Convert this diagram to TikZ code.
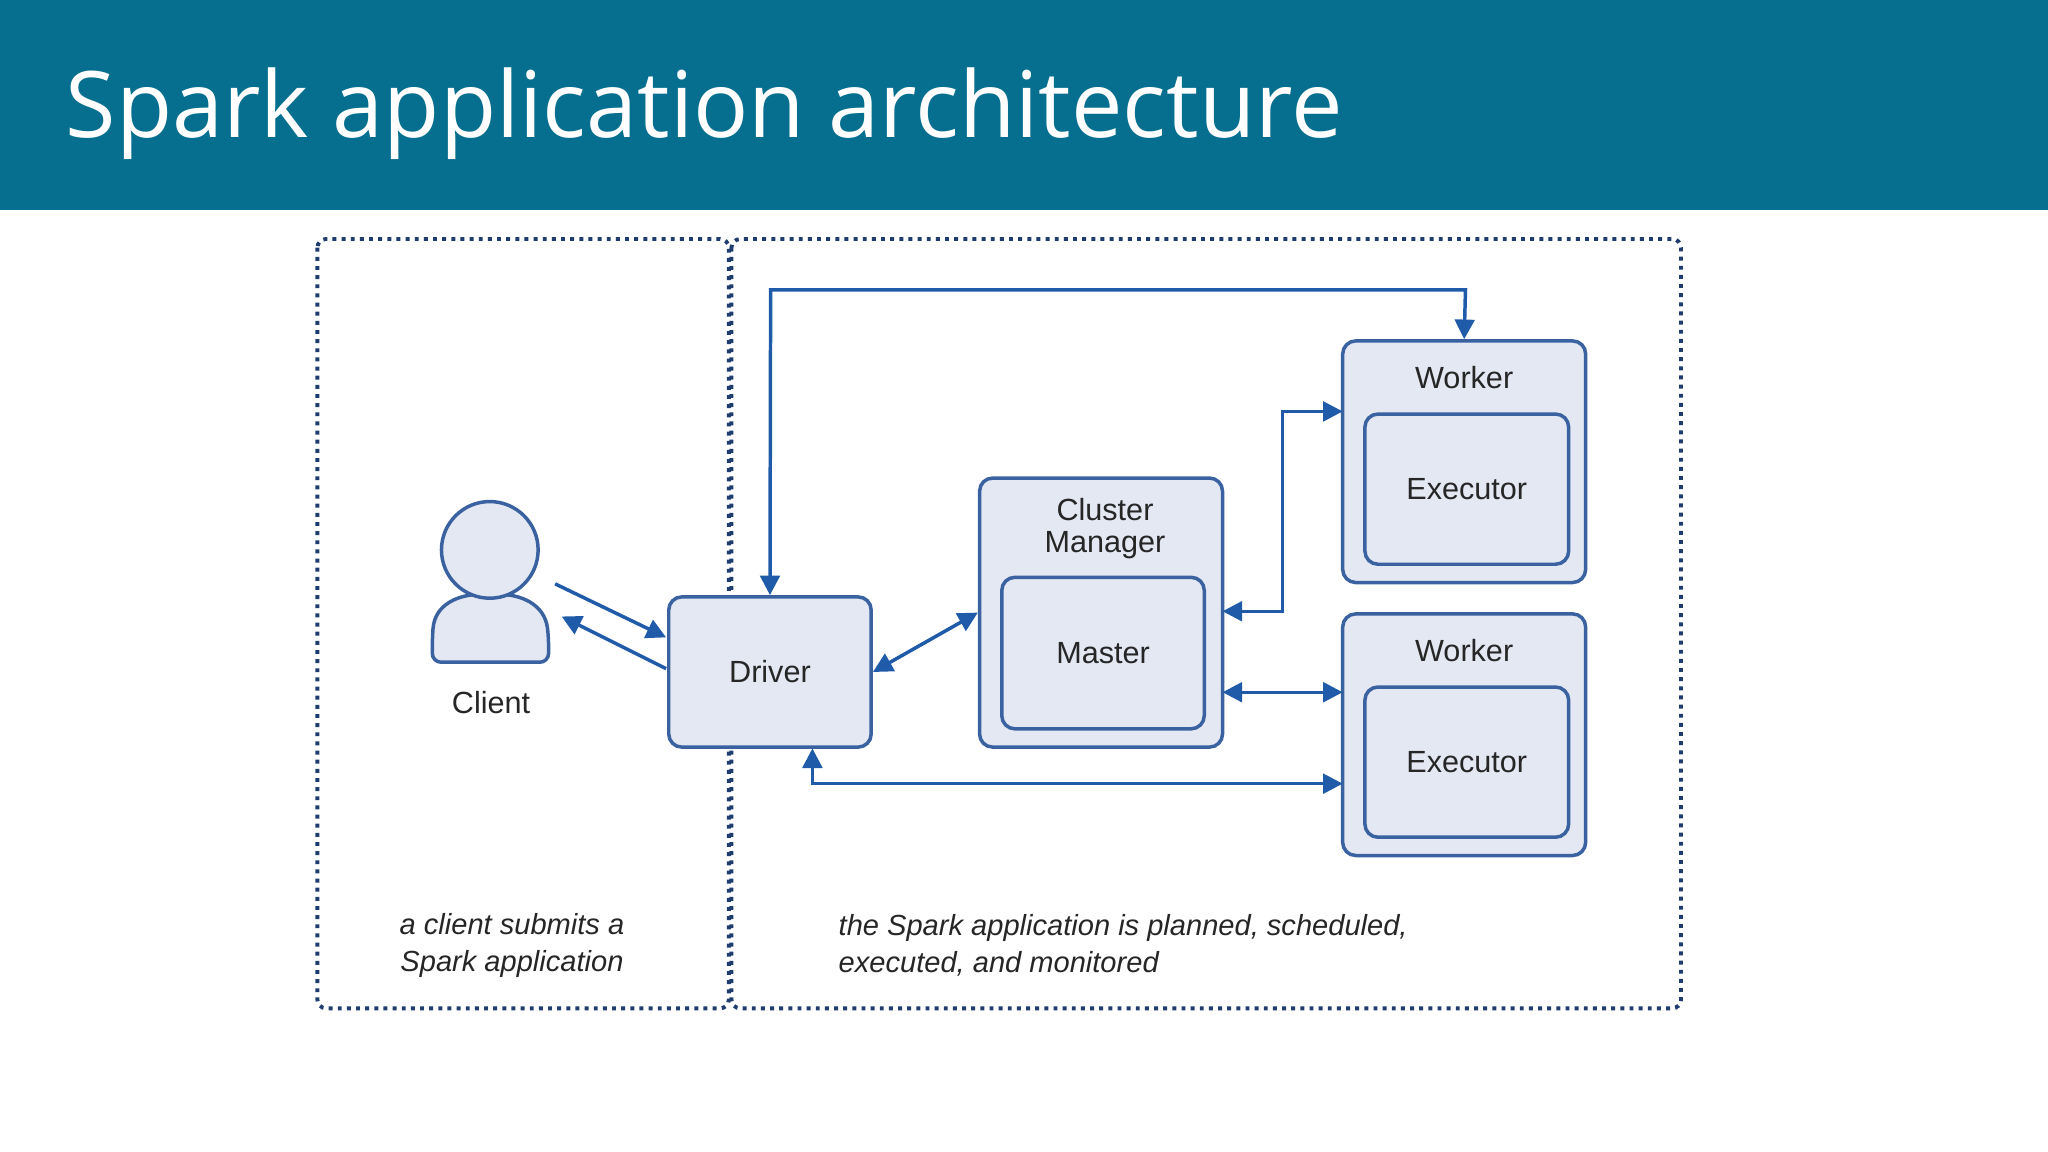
\documentclass[tikz,border=0pt]{standalone}
\usepackage{fontspec}
\setmainfont{Liberation Sans}
\newfontfamily\titlefont{Open Sans}
\usetikzlibrary{arrows.meta}
\definecolor{bar}{HTML}{066F8F}
\definecolor{edge}{HTML}{3A62A0}
\definecolor{boxfill}{HTML}{E3E8F2}
\definecolor{dotc}{HTML}{1E3C6E}
\definecolor{arr}{HTML}{1F5BA8}
\begin{document}
\begin{tikzpicture}[x=0.3mm,y=-0.3mm,
  box/.style={draw=edge,fill=boxfill,line width=0.8mm,rounded corners=3mm,inner sep=0},
  lbl/.style={font=\fontsize{20pt}{24pt}\selectfont,text=black!85,align=center},
  captext/.style={font=\fontsize{19pt}{24pt}\selectfont\itshape,text=black!85},
  dotbox/.style={draw=dotc,line width=0.9mm,dash pattern=on 0.9mm off 1.2mm,rounded corners=2mm},
  conn/.style={draw=arr,line width=0.8mm,-{Triangle[length=4.5mm,width=4.5mm]}},
  dconn/.style={draw=arr,line width=0.8mm,{Triangle[length=4.5mm,width=4.5mm]}-{Triangle[length=4.5mm,width=4.5mm]}}]
\useasboundingbox (0,0) rectangle (1568,882);
\fill[white] (0,0) rectangle (1568,882);
\fill[bar] (0,0) rectangle (1568,161);
\node[anchor=base west,text=white,font=\titlefont\fontsize{60pt}{70pt}\selectfont,inner sep=0] (title) at (50,105) {Spark application architecture};
% dotted regions
\draw[dotbox] (243,183) rectangle (558,772);
\draw[dotbox] (560,183) rectangle (1287,772);
% client icon
\draw[edge,fill=boxfill,line width=0.8mm,rounded corners=2mm] (331,507) -- (331,488) .. controls (333,462) and (352,455) .. (375,455) .. controls (398,455) and (417,462) .. (420,488) -- (420,507) -- cycle;
\draw[edge,fill=boxfill,line width=0.8mm] (375,421) circle[radius=37];
\node[lbl] (client) at (376,538) {Client};
% boxes
\node[box,minimum width=155*0.3mm,minimum height=115*0.3mm] (driver) at (589.5,514.5) {};
\node[lbl] at (driver) {Driver};
\node[box,minimum width=186*0.3mm,minimum height=206*0.3mm] (cm) at (843,469) {};
\node[lbl,font=\fontsize{20pt}{21pt}\selectfont] at (846,405) {Cluster\\Manager};
\node[box,minimum width=155*0.3mm,minimum height=116*0.3mm] (master) at (844.5,500) {};
\node[lbl] at (master) {Master};
\node[box,minimum width=186*0.3mm,minimum height=185*0.3mm] (w1) at (1121,353.5) {};
\node[lbl] at (1121,289) {Worker};
\node[box,minimum width=156*0.3mm,minimum height=115*0.3mm] (e1) at (1123,374.5) {};
\node[lbl] at (e1) {Executor};
\node[box,minimum width=186*0.3mm,minimum height=185*0.3mm] (w2) at (1121,562.5) {};
\node[lbl] at (1121,498) {Worker};
\node[box,minimum width=156*0.3mm,minimum height=115*0.3mm] (e2) at (1123,583.5) {};
\node[lbl] at (e2) {Executor};
% captions
\node[captext,align=center] (c1) at (392,724) {a client submits a\\Spark application};
\node[captext,align=left,anchor=west] (c2) at (638,724) {the Spark application is planned, scheduled,\\executed, and monitored};
% connectors
\coordinate (a1) at (425,447); \coordinate (a2) at (510,488);
\coordinate (b1) at (510,512); \coordinate (b2) at (430,472);
\draw[conn] (a1) -- (a2);
\draw[conn] (b1) -- (b2);
\draw[dconn] (driver.north) -- (590,222) -- (1122,222) -- (w1.north);
\draw[dconn] (driver.east) -- (cm.west);
\coordinate (cmr) at (936,468); \coordinate (w1l) at (1028,315);
\draw[dconn] (cmr) -- (982,468) -- (982,315) -- (w1l);
\coordinate (cmr2) at (936,530); \coordinate (w2l) at (1028,530);
\draw[dconn] (cmr2) -- (w2l);
\coordinate (db) at (622,573); \coordinate (w2b) at (1028,600);
\draw[dconn] (db) -- (622,600) -- (w2b);
\end{tikzpicture}
\end{document}
